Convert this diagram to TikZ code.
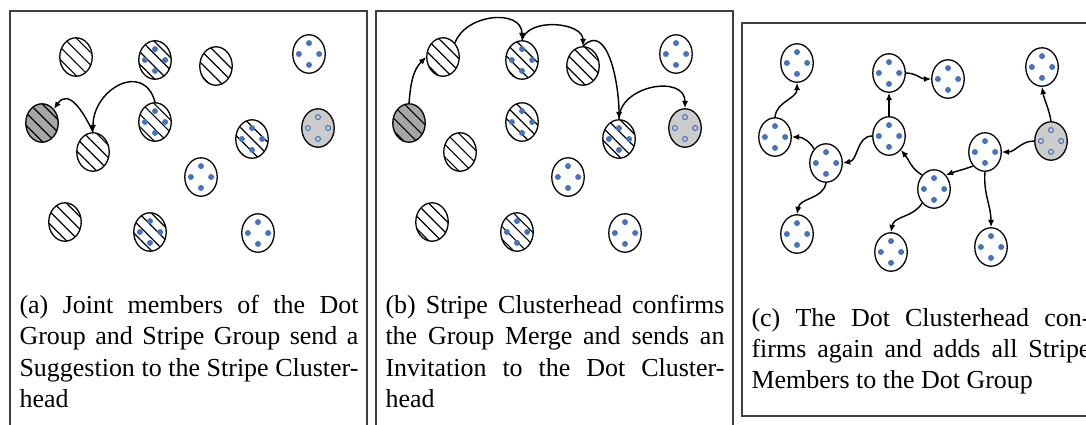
\documentclass[tikz,border=0pt]{standalone}
\usepackage{fontspec}
\setmainfont{Liberation Serif}
\usetikzlibrary{shapes.geometric,patterns.meta,arrows.meta}

\definecolor{dotblue}{RGB}{70,115,190}

\tikzset{
member/.style={ellipse, draw, line width=0.5pt, minimum width=12.5pt,
  minimum height=14.8pt, inner sep=0pt},
stripe/.style={member, pattern={Lines[angle=-45,distance=3.4pt,line width=0.45pt]}},
stripehead/.style={stripe, preaction={fill=black!35}},
dots/.style={path picture={
  \foreach \a in {0,90,180,270}
    \fill[dotblue] (path picture bounding box.center) ++(\a:3.9pt and 4.2pt) circle (1.15pt);}},
dot/.style={member, dots},
mixed/.style={stripe, dots},
dothead/.style={member, fill=black!20, path picture={
  \foreach \a in {0,90,180,270}
    \draw[dotblue, line width=0.4pt] (path picture bounding box.center) ++(\a:3.9pt and 4.2pt) circle (0.95pt);}},
link/.style={-{Latex[length=2.8pt,width=2.4pt]}, line width=0.55pt},
frame/.style={draw=black!75, line width=0.5pt},
caption/.style={anchor=north west, inner sep=0pt, text width=130.5pt,
  align=justify, font=\fontsize{10}{12}\selectfont}
}

% the same field of members in (a) and (b)
\newcommand{\groupfield}{
\node[stripe] (s1) at (76,-57) {};
\node[mixed] (m1) at (155,-60) {};
\node[stripe] (s2) at (216,-66) {};
\node[dot] (d1) at (309,-54) {};
\node[stripehead] (sh) at (42,-123) {};
\node[mixed] (m2) at (155,-122) {};
\node[dothead] (dh) at (318,-128) {};
\node[stripe] (s3) at (93,-152) {};
\node[mixed] (m3) at (252,-139) {};
\node[dot] (d2) at (201,-177) {};
\node[stripe] (s4) at (65,-222) {};
\node[mixed] (m4) at (150,-232) {};
\node[dot] (d3) at (258,-233) {};
}

\begin{document}
\begin{tikzpicture}[x=0.385pt, y=0.385pt]
\clip (0,0) rectangle (1086,-424);

% frames
\draw[frame] (10,-11) rectangle (367,-440);
\draw[frame] (376,-11) rectangle (733,-440);
\draw[frame] (742,-23) rectangle (1100,-416);

% (a)
\begin{scope}[name prefix=a-]
\groupfield
\draw[link] (m2.north) to[out=105, in=90, looseness=1.6] (s3.north);
\draw[link] (s3.north) to[out=115, in=55, looseness=1.4] (sh.north east);
\end{scope}

% (b)
\begin{scope}[shift={(367,0)}, name prefix=b-]
\groupfield
\draw[link] (sh.north) to[out=85, in=225] (s1.west);
\draw[link] (s1.north east) to[out=70, in=90, looseness=1.2] (m1.north);
\draw[link] (m1.north) to[out=75, in=90] (s2.north);
\draw[link] (s2.north) to[out=45, in=90, looseness=1.1] (m3.north);
\draw[link] (m3.north) to[out=90, in=90, looseness=1.3] (dh.north);
\end{scope}

% (c)
\node[dot] (c1) at (797,-63) {};
\node[dot] (c2) at (889,-73) {};
\node[dot] (c3) at (948,-79) {};
\node[dot] (c4) at (1042,-67) {};
\node[dot] (c5) at (775,-137) {};
\node[dot] (c6) at (889,-136) {};
\node[dothead] (ch) at (1051,-141) {};
\node[dot] (c7) at (826,-163) {};
\node[dot] (c8) at (985,-152) {};
\node[dot] (c9) at (934,-189) {};
\node[dot] (c10) at (797,-234) {};
\node[dot] (c11) at (891,-252) {};
\node[dot] (c12) at (991,-247) {};

\draw[link] (ch.north) to[out=100, in=-80] (c4.south);
\draw[link] (ch.west) to[out=180, in=0] (c8.east);
\draw[link] (c8.south west) to[out=200, in=20] (c9.north east);
\draw[link] (c8.south) to[out=-95, in=90] (c12.north);
\draw[link] (c9.north west) to[out=150, in=-50] (c6.south east);
\draw[link] (c9.south west) to[out=-120, in=80] (c11.north);
\draw[link] (c6.north) -- (c2.south);
\draw[link] (c2.east) to[out=0, in=180] (c3.west);
\draw[link] (c6.west) to[out=180, in=10] (c7.east);
\draw[link] (c7.north west) to[out=120, in=0] (c5.east);
\draw[link] (c7.south) to[out=-100, in=80] (c10.north);
\draw[link] (c5.north) to[out=85, in=-90] (c1.south);

% captions
\node[caption] (capa) at (19,-295) {(a) Joint members of the Dot\linebreak
  Group and Stripe Group send a\linebreak
  Suggestion to the Stripe Cluster-\linebreak head};
\node[caption] (capb) at (385,-295) {(b) Stripe Clusterhead confirms\linebreak
  the Group Merge and sends an\linebreak
  Invitation to the Dot Cluster-\linebreak head};
\node[caption] (capc) at (751,-308) {(c) The Dot Clusterhead con-\linebreak
  firms again and adds all Stripe\linebreak
  Members to the Dot Group};
\end{tikzpicture}
\end{document}
